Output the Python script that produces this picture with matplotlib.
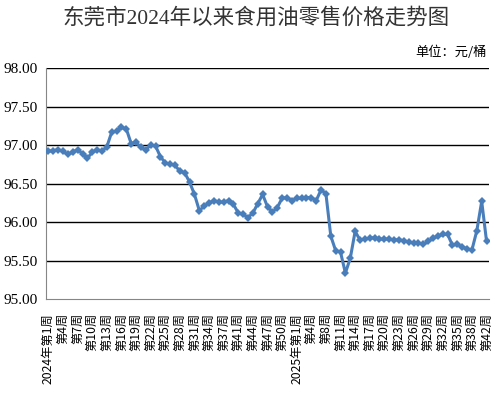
import matplotlib
matplotlib.use("Agg")
import matplotlib.pyplot as plt

# week labels: 2024 has no week 38, 2025 has no week 5 and 40
weeks_2024 = [w for w in range(1, 53) if w != 38]
weeks_2025 = [w for w in range(1, 43) if w not in (5, 40)]

prices = [
    96.92, 96.93, 96.94, 96.92, 96.88, 96.91, 96.94, 96.89, 96.83, 96.91,
    96.94, 96.92, 96.98, 97.17, 97.18, 97.23, 97.21, 97.02, 97.04, 96.97,
    96.94, 97.00, 96.99, 96.85, 96.77, 96.75, 96.74, 96.66, 96.64, 96.52,
    96.36, 96.15, 96.21, 96.25, 96.28, 96.26, 96.26, 96.28, 96.23, 96.12,
    96.10, 96.06, 96.12, 96.24, 96.36, 96.20, 96.13, 96.19, 96.31, 96.32,
    96.28, 96.31, 96.31, 96.32, 96.32, 96.28, 96.42, 96.37, 95.82, 95.63,
    95.61, 95.34, 95.53, 95.88, 95.77, 95.78, 95.79, 95.80, 95.78, 95.78,
    95.78, 95.77, 95.77, 95.76, 95.74, 95.73, 95.73, 95.71, 95.75, 95.79,
    95.82, 95.84, 95.84, 95.70, 95.71, 95.68, 95.65, 95.64, 95.89, 96.27,
    95.75,
]

labels = []
for i, w in enumerate(weeks_2024):
    labels.append(("2024年第%d周" if i == 0 else "第%d周") % w)
for i, w in enumerate(weeks_2025):
    labels.append(("2025年第%d周" if i == 0 else "第%d周") % w)

y_ticks = [95.0, 95.5, 96.0, 96.5, 97.0, 97.5, 98.0]

CJK = ["Noto Sans CJK SC", "DejaVu Sans"]
SERIF = ["Liberation Serif", "Noto Sans CJK SC"]

fig = plt.figure(figsize=(5.0, 4.01), dpi=100)
ax = fig.add_axes([0.092, 0.254, 0.886, 0.576])

x = list(range(len(prices)))
ax.plot(x, prices, color="#4A7EBB", linewidth=2.2, marker="D",
        markersize=4.2, markeredgewidth=0, zorder=3)

ax.set_xlim(-0.5, len(prices) - 0.5)
ax.set_ylim(95.0, 98.0)
ax.set_yticks(y_ticks)
ax.set_yticklabels(["%.2f" % v for v in y_ticks], family=SERIF, fontsize=11)
for v in y_ticks[1:]:
    ax.axhline(v, color="black", linewidth=1.0, zorder=1)

tick_pos = x[::3]
ax.set_xticks(tick_pos)
ax.set_xticklabels([labels[i] for i in tick_pos], rotation=90,
                   family=CJK, fontsize=8.8, va="top", ha="center")
ax.tick_params(axis="x", length=0, pad=10)
ax.tick_params(axis="y", length=0, pad=6)

for s in ["top", "right"]:
    ax.spines[s].set_visible(False)
ax.spines["left"].set_color("#868686")
ax.spines["bottom"].set_color("#868686")

fig.text(0.512, 0.955, "东莞市2024年以来食用油零售价格走势图", ha="center",
         va="center", family=SERIF, fontsize=15.5, fontweight="light",
         color="#333333")
fig.text(0.974, 0.870, "单位：元/桶", ha="right", va="center",
         family=CJK, fontsize=9.5)

fig.savefig("out.png", dpi=100)
